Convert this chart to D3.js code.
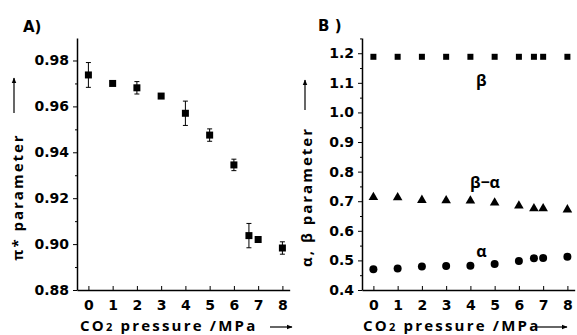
<!DOCTYPE html>
<html>
<head>
<meta charset="utf-8">
<script src="https://cdn.jsdelivr.net/npm/d3@7"></script>
<style>
  body { margin: 0; background: #fff; }
  svg text { font-family: "DejaVu Sans", sans-serif; font-weight: bold; fill: #000; }
  .title { font-family: "Open Sans", sans-serif; }
</style>
</head>
<body>
<div id="chart"></div>
<script>
// pressure (MPa)
const pressure = [0, 1, 2, 3, 4, 5, 6, 6.62, 7, 8];
// panel A: pi* parameter with error
const piStar = [0.9737, 0.9700, 0.9681, 0.9645, 0.9570, 0.9475, 0.9345, 0.9037, 0.9020, 0.8983];
const piErr  = [0.0054, 0, 0.0027, 0, 0.0053, 0.0027, 0.0025, 0.0053, 0, 0.0027];
// panel B
const beta      = [1.188, 1.188, 1.188, 1.188, 1.188, 1.188, 1.188, 1.188, 1.188, 1.188];
const betaAlpha = [0.717, 0.716, 0.707, 0.706, 0.705, 0.698, 0.688, 0.679, 0.679, 0.675];
const alpha     = [0.470, 0.473, 0.479, 0.481, 0.482, 0.488, 0.498, 0.507, 0.508, 0.512];
const xTicks = [0, 1, 2, 3, 4, 5, 6, 7, 8];
const piTicks = [0.88, 0.90, 0.92, 0.94, 0.96, 0.98];
const abTicks = [0.4, 0.5, 0.6, 0.7, 0.8, 0.9, 1.0, 1.1, 1.2];

const W = 577, H = 335;
const svg = d3.select("#chart").append("svg").attr("width", W).attr("height", H);

function panel(opt) {
  const x = d3.scaleLinear().domain([-0.47, 8.3]).range([opt.left, opt.left + 8.77 * 24.25]);
  const y = d3.scaleLinear().domain(opt.yDomain).range([290, 38]);
  const g = svg.append("g");

  // x axis: ticks pointing up into the plot
  const xa = g.append("g").attr("transform", "translate(0,290)")
    .call(d3.axisBottom(x).tickValues(xTicks).tickSizeInner(-4).tickSizeOuter(0).tickPadding(10));
  xa.selectAll("text").style("font-size", "14px");

  // y axis
  const ya = g.append("g").attr("transform", `translate(${opt.left},0)`)
    .call(d3.axisLeft(y).tickValues(opt.yTicks).tickFormat(opt.fmt).tickSizeInner(4).tickSizeOuter(0).tickPadding(4));
  ya.selectAll("text").style("font-size", "14px");
  g.append("g").attr("transform", `translate(${opt.left},0)`)
    .call(d3.axisLeft(y).tickValues(opt.minor).tickFormat("").tickSizeInner(2).tickSizeOuter(0))
    .select(".domain").remove();
  g.selectAll(".domain").attr("stroke-width", 1.5);

  return { x, y, g };
}

// arrow marker
svg.append("defs").append("marker").attr("id", "arr")
  .attr("viewBox", "0 0 10 10").attr("refX", 9).attr("refY", 5)
  .attr("markerWidth", 5).attr("markerHeight", 5).attr("orient", "auto")
  .append("path").attr("d", "M0,1 L10,5 L0,9 z").attr("fill", "#000");

// ---------- Panel A ----------
const A = panel({
  left: 77, yDomain: [0.88, 0.9898], yTicks: piTicks, fmt: d3.format(".2f"),
  minor: [0.89, 0.91, 0.93, 0.95, 0.97]
});
const ptsA = pressure.map((p, i) => ({ p, v: piStar[i], e: piErr[i] }));
A.g.selectAll(".err").data(ptsA.filter(d => d.e > 0)).enter().append("g").each(function(d) {
  const s = d3.select(this), cx = A.x(d.p);
  s.append("line").attr("x1", cx).attr("x2", cx).attr("y1", A.y(d.v - d.e)).attr("y2", A.y(d.v + d.e)).attr("stroke", "#000");
  [d.v - d.e, d.v + d.e].forEach(v => s.append("line").attr("x1", cx - 2.5).attr("x2", cx + 2.5)
    .attr("y1", A.y(v)).attr("y2", A.y(v)).attr("stroke", "#000"));
});
A.g.selectAll(".sq").data(ptsA).enter().append("rect")
  .attr("x", d => A.x(d.p) - 3.5).attr("y", d => A.y(d.v) - 3.5)
  .attr("width", 7).attr("height", 7).attr("fill", "#000");

svg.append("text").attr("x", 23).attr("y", 32).style("font-size", "15px").text("A)");

// ---------- Panel B ----------
const B = panel({
  left: 362, yDomain: [0.4, 1.2515], yTicks: abTicks, fmt: d3.format(".1f"),
  minor: [0.45, 0.55, 0.65, 0.75, 0.85, 0.95, 1.05, 1.15, 1.25]
});
B.g.selectAll(".beta").data(pressure).enter().append("rect")
  .attr("x", (d) => B.x(d) - 3).attr("y", (d, i) => B.y(beta[i]) - 3)
  .attr("width", 6).attr("height", 6).attr("fill", "#000");
const tri = d3.symbol().type(d3.symbolTriangle).size(40);
B.g.selectAll(".ba").data(pressure).enter().append("path")
  .attr("d", tri).attr("transform", (d, i) => `translate(${B.x(d)},${B.y(betaAlpha[i]) + 1})`).attr("fill", "#000");
B.g.selectAll(".al").data(pressure).enter().append("circle")
  .attr("cx", d => B.x(d)).attr("cy", (d, i) => B.y(alpha[i])).attr("r", 4).attr("fill", "#000");

svg.append("text").attr("x", 318).attr("y", 31).style("font-size", "15px").text("B )");
const lab = (t, xv, yv) => svg.append("text").attr("class", "title").attr("x", B.x(xv)).attr("y", B.y(yv))
  .attr("text-anchor", "middle").style("font-size", "16px").text(t);
lab("β", 4.45, 1.09);
lab("β−α", 4.6, 0.745);
lab("α", 4.45, 0.512);

// ---------- axis titles ----------
function xTitle(x0, x1, x2) {
  const t = svg.append("text").attr("class", "title").attr("x", x0).attr("y", 331)
    .style("font-size", "15px").style("letter-spacing", "2.2px");
  t.append("tspan").text("CO");
  t.append("tspan").style("font-size", "11px").text("2");
  t.append("tspan").text(" pressure /MPa");
  svg.append("line").attr("x1", x1).attr("x2", x2).attr("y1", 327).attr("y2", 327)
    .attr("stroke", "#000").attr("stroke-width", 1.2).attr("marker-end", "url(#arr)");
}
xTitle(80, 270, 292);
xTitle(363, 537, 567);

function yTitle(cx, cy, label, ax, a1, a2) {
  svg.append("text").attr("class", "title").attr("transform", `translate(${cx},${cy}) rotate(-90)`)
    .attr("text-anchor", "middle").style("font-size", "15px").style("letter-spacing", "2px").text(label);
  svg.append("line").attr("x1", ax).attr("x2", ax).attr("y1", a1).attr("y2", a2)
    .attr("stroke", "#000").attr("stroke-width", 1.2).attr("marker-end", "url(#arr)");
}
yTitle(23, 197, "π* parameter", 14, 113, 78);
yTitle(312, 197, "α, β parameter", 305, 110, 80);
</script>
</body>
</html>
